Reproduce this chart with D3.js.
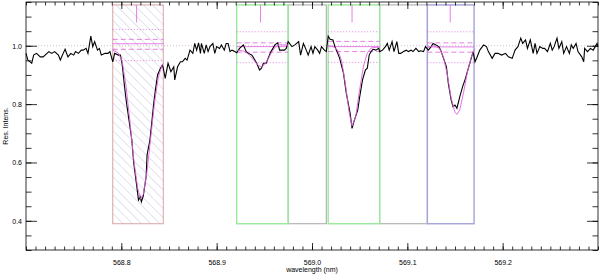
<!DOCTYPE html>
<html>
<head>
<meta charset="utf-8">
<script src="https://cdn.jsdelivr.net/npm/d3@7"></script>
<style>
  body { margin: 0; background: #fff; }
  svg { display: block; }
  text { font-family: "Liberation Sans", Arial, sans-serif; fill: #000; }
</style>
</head>
<body>
<div id="chart"></div>
<script>
// observed spectrum (wavelength in nm, residual intensity)
const wavelength = [
  568.700,568.702,568.706,568.708,568.711,568.715,568.718,568.722,568.724,568.727,
  568.730,568.734,568.736,568.739,568.741,568.744,568.747,568.750,568.752,568.755,
  568.758,568.760,568.763,568.765,568.768,568.770,568.772,568.775,568.777,568.779,
  568.783,568.786,568.788,568.791,568.793,568.797,568.799,568.801,
  568.803,568.805,568.808,568.811,568.813,568.816,568.818,568.820,568.821,568.823,
  568.826,568.827,568.830,568.832,568.834,568.836,568.838,568.841,568.843,568.844,
  568.846,568.849,568.852,568.855,568.856,568.859,568.862,568.864,568.867,568.869,
  568.872,568.875,568.877,568.879,568.881,568.883,568.884,568.887,568.889,568.891,
  568.893,568.896,568.898,568.900,568.903,568.905,568.908,568.910,568.912,568.914,
  568.916,568.919,568.921,568.924,568.928,568.931,568.933,568.937,568.939,568.942,
  568.945,568.947,568.949,568.952,568.954,568.957,568.959,568.961,568.964,568.966,
  568.968,568.971,568.973,568.975,568.979,568.982,568.986,568.988,568.991,568.994,
  568.996,568.999,569.001,569.003,569.006,569.008,569.010,569.013,569.015,569.017,
  569.019,569.022,569.024,569.027,569.029,569.033,569.036,569.040,569.042,569.044,
  569.048,569.050,569.053,569.056,569.058,569.060,569.062,569.064,569.067,569.070,
  569.071,569.074,569.077,569.079,569.081,569.084,569.086,569.089,569.091,569.093,
  569.096,569.099,569.101,569.104,569.106,569.109,569.112,569.114,569.117,569.119,
  569.122,569.125,569.127,569.130,569.133,569.135,569.138,569.141,569.143,569.146,
  569.148,569.150,569.152,569.155,569.158,569.161,569.164,569.167,569.169,569.171,
  569.173,569.176,569.180,569.183,569.185,569.189,569.192,569.195,569.199,569.203,
  569.206,569.210,569.213,569.216,569.219,569.221,569.224,569.226,569.229,569.232,
  569.234,569.236,569.239,569.242,569.244,569.247,569.250,569.252,569.254,569.257,
  569.259,569.262,569.264,569.267,569.270,569.272,569.274,569.277,569.279,569.283,
  569.285,569.286,569.289,569.292,569.295,569.299,569.300
];
const intensity = [
  0.974,0.951,0.940,0.968,0.974,0.962,0.962,0.974,0.980,0.974,
  0.980,0.968,0.951,0.974,0.988,0.962,0.974,0.968,0.980,0.974,
  0.985,0.985,0.991,0.974,1.033,0.997,1.014,0.985,0.991,0.968,
  0.974,0.974,0.980,0.945,0.974,0.968,0.968,0.934,
  0.871,0.814,0.746,0.677,0.598,0.523,0.471,0.482,0.465,0.485,
  0.551,0.626,0.677,0.739,0.804,0.855,0.900,0.923,0.934,0.923,
  0.888,0.940,0.911,0.928,0.883,0.928,0.945,0.945,0.957,0.951,
  0.985,0.974,1.008,0.985,1.010,0.974,1.008,0.974,1.003,0.980,
  0.997,1.008,0.974,0.997,0.991,1.003,0.985,1.008,1.008,0.980,
  0.985,0.980,0.976,0.991,1.003,0.980,0.974,0.968,0.957,0.940,
  0.917,0.923,0.940,0.940,0.957,0.980,0.991,1.003,1.010,0.985,
  0.985,0.985,0.991,1.014,0.997,1.003,1.014,0.968,1.008,0.985,
  0.968,0.997,0.974,0.997,0.985,0.974,0.997,0.985,0.980,1.033,
  1.022,1.020,0.997,0.974,0.957,0.906,0.837,0.768,0.717,0.740,
  0.780,0.825,0.883,0.917,0.923,0.968,0.980,0.988,0.985,0.991,
  0.980,0.985,0.997,1.008,0.985,1.014,0.980,1.014,0.974,0.974,
  0.980,0.985,0.980,0.985,0.980,0.991,0.980,0.983,0.980,0.997,
  0.985,0.997,1.008,1.003,0.997,0.985,0.957,0.928,0.871,0.814,
  0.791,0.797,0.786,0.825,0.860,0.888,0.923,0.957,0.980,0.945,
  0.960,0.985,1.003,0.997,0.980,0.957,0.974,0.974,0.968,0.974,
  0.962,0.957,0.985,0.997,1.026,1.008,1.020,0.991,1.020,0.974,
  1.008,0.974,0.997,0.991,0.991,0.980,1.008,0.985,0.997,1.026,
  0.991,1.014,0.974,0.997,0.974,1.003,0.991,1.008,0.980,0.962,
  0.945,0.991,0.980,0.991,0.985,1.008,0.997
];

// line fits (wavelength, intensity)
const fitRed = [[568.791,0.985],[568.797,0.975],[568.801,0.945],[568.805,0.860],[568.809,0.740],
  [568.813,0.610],[568.817,0.515],[568.820,0.475],[568.823,0.490],[568.827,0.570],[568.831,0.690],
  [568.835,0.810],[568.839,0.895],[568.843,0.935],[568.844,0.940]];
const fitGreen1 = [[568.921,0.985],[568.928,0.982],[568.934,0.970],[568.939,0.950],[568.944,0.932],
  [568.947,0.928],[568.950,0.935],[568.954,0.955],[568.958,0.980],[568.962,0.998],[568.966,1.003],[568.975,1.003]];
const fitGreen2 = [[569.017,1.000],[569.022,0.998],[569.027,0.985],[569.031,0.950],[569.035,0.870],
  [569.039,0.770],[569.042,0.725],[569.046,0.760],[569.050,0.850],[569.054,0.930],[569.058,0.975],
  [569.062,0.992],[569.067,0.995],[569.071,0.995]];
const fitBlue = [[569.121,0.995],[569.128,1.000],[569.134,0.990],[569.138,0.960],[569.142,0.900],
  [569.146,0.820],[569.150,0.772],[569.152,0.765],[569.155,0.780],[569.159,0.840],[569.163,0.910],
  [569.167,0.960],[569.170,0.985],[569.171,0.990]];

// fitting windows: [start, end]
const windowStart = [568.791, 568.975, 569.071, 568.921, 569.017, 569.121];
const windowEnd   = [568.844, 569.015, 569.121, 568.975, 569.071, 569.170];
const windowKind  = ["red", "gray", "gray", "green", "green", "blue"];
const windowTop = 1.14, windowBottom = 0.39;

// levels inside the windows: [upper dotted, upper dashed, centre, lower dashed, lower dotted]
const levelsRed    = [1.056, 1.022, 1.007, 0.988, 0.949];
const levelsGreen1 = [1.048, 1.010, 0.997, 0.978, 0.942];
const levelsGreen2 = [1.048, 1.015, 0.997, 0.980, 0.943];
const levelsBlue   = [1.048, 1.010, 0.996, 0.978, 0.942];
const lineCentres  = [568.816, 568.946, 569.042, 569.145];

const xTicks = [568.8, 568.9, 569.0, 569.1, 569.2];
const yTicks = [0.4, 0.6, 0.8, 1.0];

const width = 600, height = 276;
const margin = {left: 26, right: 2, top: 2, bottom: 26};

const svg = d3.select("#chart").append("svg")
    .attr("width", width)
    .attr("height", height);

const x = d3.scaleLinear().domain([568.7, 569.3]).range([margin.left, width - margin.right]);
const y = d3.scaleLinear().domain([0.3, 1.15]).range([height - margin.bottom, margin.top]);

// hatching for the red window
const defs = svg.append("defs");
const pat = defs.append("pattern")
    .attr("id", "hatch")
    .attr("patternUnits", "userSpaceOnUse")
    .attr("width", 6.5).attr("height", 6.5)
    .attr("patternTransform", "rotate(-45)");
pat.append("line")
    .attr("x1", 0).attr("y1", 0).attr("x2", 0).attr("y2", 6.5)
    .attr("stroke", "#b4bdd6").attr("stroke-width", 0.8);

const colors = {red: "#d9a3a3", gray: "#a6a6a6", green: "#9be89b", blue: "#a3a3d9"};
const widths = {red: 1, gray: 1, green: 1.4, blue: 1.4};

const gWin = svg.append("g");
windowStart.forEach((s, i) => {
    const k = windowKind[i];
    gWin.append("rect")
        .attr("x", x(s))
        .attr("y", y(windowTop))
        .attr("width", x(windowEnd[i]) - x(s))
        .attr("height", y(windowBottom) - y(windowTop))
        .attr("fill", k === "red" ? "url(#hatch)" : "none")
        .attr("stroke", colors[k])
        .attr("stroke-width", widths[k]);
});

// dotted continuum across the whole plot
svg.append("line")
    .attr("x1", x(568.7)).attr("x2", x(569.3))
    .attr("y1", y(1.0)).attr("y2", y(1.0))
    .attr("stroke", "#c9a9c9").attr("stroke-width", 0.8)
    .attr("stroke-dasharray", "1,2");

const magenta = "#e060e0";
const levelSets = [
    [568.791, 568.844, levelsRed],
    [568.921, 568.975, levelsGreen1],
    [569.017, 569.071, levelsGreen2],
    [569.121, 569.170, levelsBlue]
];
const levelDash = ["1,2", "5,3", null, "5,3", "1,2"];
levelSets.forEach(([a, b, lv]) => {
    lv.forEach((v, j) => {
        svg.append("line")
            .attr("x1", x(a)).attr("x2", x(b))
            .attr("y1", y(v)).attr("y2", y(v))
            .attr("stroke", magenta)
            .attr("stroke-width", 0.8)
            .attr("stroke-dasharray", levelDash[j]);
    });
});
lineCentres.forEach(c => {
    svg.append("line")
        .attr("x1", x(c)).attr("x2", x(c))
        .attr("y1", y(windowTop)).attr("y2", y(1.08))
        .attr("stroke", magenta).attr("stroke-width", 0.8);
});

// the spectrum
const spec = wavelength.map((w, i) => [w, intensity[i]]);
const line = d3.line().x(d => x(d[0])).y(d => y(d[1]));
svg.append("path")
    .datum(spec)
    .attr("d", line)
    .attr("fill", "none")
    .attr("stroke", "#000")
    .attr("stroke-width", 1.1);

[fitRed, fitGreen1, fitGreen2, fitBlue].forEach(f => {
    svg.append("path")
        .datum(f)
        .attr("d", line)
        .attr("fill", "none")
        .attr("stroke", magenta)
        .attr("stroke-width", 0.9);
});

// frame and ticks (inside, IDL style)
svg.append("rect")
    .attr("x", margin.left).attr("y", margin.top)
    .attr("width", width - margin.left - margin.right)
    .attr("height", height - margin.top - margin.bottom)
    .attr("fill", "none").attr("stroke", "#000").attr("stroke-width", 0.8);

const xMinor = d3.range(0, 61).map(i => 568.7 + i * 0.01);
const yMinor = d3.range(0, 18).map(i => 0.3 + i * 0.05);
const tickStroke = g => g.selectAll("line").attr("stroke", "#000").attr("stroke-width", 0.8);

const bottomY = height - margin.bottom;
svg.append("g").attr("transform", `translate(0,${bottomY})`)
    .call(d3.axisBottom(x).tickValues(xMinor).tickSize(-3.5).tickFormat(""))
    .call(g => g.select(".domain").remove()).call(tickStroke);
svg.append("g").attr("transform", `translate(0,${bottomY})`)
    .call(d3.axisBottom(x).tickValues(xTicks).tickSize(-7).tickPadding(12).tickFormat(d3.format(".1f")))
    .call(g => g.select(".domain").remove()).call(tickStroke)
    .call(g => g.selectAll("text").attr("font-size", 7).attr("dy", "0.4em"));
svg.append("g").attr("transform", `translate(0,${margin.top})`)
    .call(d3.axisTop(x).tickValues(xMinor).tickSize(-3.5).tickFormat(""))
    .call(g => g.select(".domain").remove()).call(tickStroke);
svg.append("g").attr("transform", `translate(0,${margin.top})`)
    .call(d3.axisTop(x).tickValues(xTicks).tickSize(-7).tickFormat(""))
    .call(g => g.select(".domain").remove()).call(tickStroke);

svg.append("g").attr("transform", `translate(${margin.left},0)`)
    .call(d3.axisLeft(y).tickValues(yMinor).tickSize(-5.5).tickFormat(""))
    .call(g => g.select(".domain").remove()).call(tickStroke);
svg.append("g").attr("transform", `translate(${margin.left},0)`)
    .call(d3.axisLeft(y).tickValues(yTicks).tickSize(-11).tickPadding(4).tickFormat(d3.format(".1f")))
    .call(g => g.select(".domain").remove()).call(tickStroke)
    .call(g => g.selectAll("text").attr("font-size", 7).attr("x", -4));
svg.append("g").attr("transform", `translate(${width - margin.right},0)`)
    .call(d3.axisRight(y).tickValues(yMinor).tickSize(-5.5).tickFormat(""))
    .call(g => g.select(".domain").remove()).call(tickStroke);
svg.append("g").attr("transform", `translate(${width - margin.right},0)`)
    .call(d3.axisRight(y).tickValues(yTicks).tickSize(-11).tickFormat(""))
    .call(g => g.select(".domain").remove()).call(tickStroke);

// axis titles
svg.append("text")
    .attr("x", (margin.left + width - margin.right) / 2)
    .attr("y", 272)
    .attr("text-anchor", "middle")
    .attr("font-size", 7)
    .text("wavelength (nm)");
svg.append("text")
    .attr("transform", `translate(8,${(margin.top + height - margin.bottom) / 2}) rotate(-90)`)
    .attr("text-anchor", "middle")
    .attr("font-size", 7)
    .text("Res. Intens.");
</script>
</body>
</html>
